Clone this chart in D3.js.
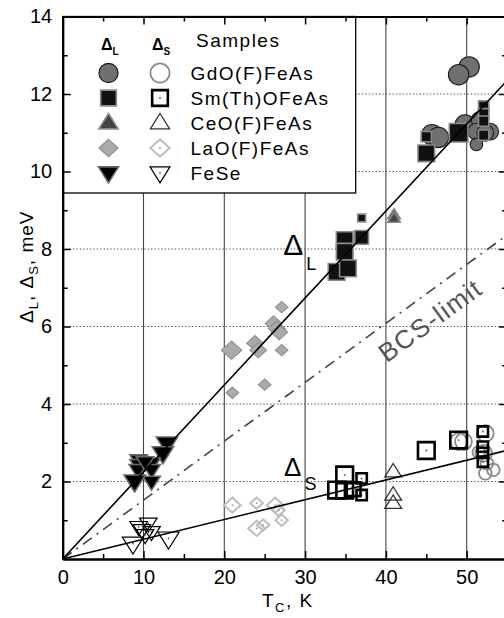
<!DOCTYPE html>
<html><head><meta charset="utf-8">
<script src="https://cdn.jsdelivr.net/npm/d3@7"></script>
<style>
body{margin:0;background:#fff}
svg{display:block}
text{font-family:"Liberation Sans",Arial,Helvetica,sans-serif;fill:#000}
</style>
</head><body>
<svg id="chart" width="504" height="618"></svg>
<script>
// ---------- data ----------
const samples = ["GdO(F)FeAs", "Sm(Th)OFeAs", "CeO(F)FeAs", "LaO(F)FeAs", "FeSe"];
const xTickValues = [0, 10, 20, 30, 40, 50];
const yTickValues = [2, 4, 6, 8, 10, 12, 14];
const slopeL = 0.2245;   // Delta_L fit, meV/K
const slopeS = 0.051;    // Delta_S fit, meV/K
const slopeBCS = 0.152;  // BCS limit 1.76 kTc

// [Tc (K), Delta (meV), marker size class]
const gdoL = [[50.3,12.7,"l"],[49.0,12.5,"l"],[45.7,10.95,"l"],[46.5,10.88,"l"],[49.8,11.2,"l"],
  [51.6,11.33,"m"],[51.2,11.03,"m"],[52.9,11.03,"m"],[51.2,10.7,"s"],[52.3,11.0,"m"]];
const smL = [[49.0,11.0,"xl"],[45.0,10.9,"s"],[45.0,10.47,"l"],[52.1,11.69,"s"],[52.1,11.49,"s"],
  [52.1,11.3,"s"],[52.1,10.94,"s"],[37.0,8.8,"xs"],[37.0,8.3,"m"],[34.9,8.23,"l"],[34.9,7.93,"l"],
  [33.9,7.41,"l"],[35.3,7.5,"l"]];
const ceL = [[41.0,8.88,"s"],[41.0,8.79,"s"]];
const laL = [[27.1,6.5,"s"],[26.1,6.08,"m"],[26.5,5.95,"m"],[26.8,5.85,"m"],[23.8,5.57,"m"],[24.2,5.39,"m"],
  [20.9,5.39,"l"],[27.1,5.39,"s"],[25.0,4.5,"s"],[21.0,4.29,"s"]];
const feseL = [[12.9,2.98,"l"],[12.4,2.73,"l"],[9.4,2.55,"m"],[9.4,2.43,"m"],[9.3,2.3,"m"],[11.0,2.47,"m"],
  [11.0,2.3,"m"],[11.0,2.0,"m"],[8.9,2.0,"l"],[10.2,2.5,"m"]];

const gdoS = [[52.3,3.24,"m"],[49.6,3.03,"m"],[49.0,3.03,"m"],[52.1,2.73,"m"],[51.5,2.75,"s"],
  [52.5,2.47,"s"],[52.3,2.21,"s"],[53.3,2.3,"s"]];
const smS = [[34.9,2.17,"l"],[33.9,1.78,"l"],[34.9,1.78,"l"],[37.0,2.08,"s"],[37.0,1.65,"s"],[36.0,1.8,"m"],
  [45.0,2.8,"l"],[49.0,3.07,"l"],[52.0,3.29,"s"],[52.0,2.9,"s"],[52.0,2.74,"s"],[52.0,2.51,"s"]];
const ceS = [[40.9,2.25,"m"],[40.9,1.65,"m"],[40.9,1.44,"m"]];
const laS = [[21.0,1.39,"m"],[24.0,1.44,"s"],[26.3,1.39,"m"],[26.7,1.26,"s"],[27.1,1.0,"s"],
  [24.0,0.79,"m"],[24.8,0.88,"s"]];
const feseS = [[9.4,0.83,"m"],[10.6,0.92,"m"],[9.8,0.75,"m"],[8.7,0.4,"l"],[13.1,0.53,"l"],
  [11.0,0.7,"m"],[10.2,0.62,"m"]];

// ---------- layout ----------
const svg = d3.select("#chart");
const x = d3.scaleLinear().domain([0, 55]).range([62.7, 507.1]);
const y = d3.scaleLinear().domain([0, 14]).range([559, 16.5]);
const size = d3.scaleOrdinal().domain(["xs","s","m","l","xl"]).range([8, 10.5, 14, 17, 19]);
const shapeScale = {circle: 1.2, square: 0.98, up: 1.2, down: 1.25, diamond: 1.2};
const FONT = 19, LS = "1.5px";

const styles = {
  "GdO(F)FeAs": {shape:"circle", f:{fill:"#707070",stroke:"#1a1a1a",sw:1.1}, o:{fill:"none",stroke:"#8a8a8a",sw:1.8}},
  "Sm(Th)OFeAs":{shape:"square", f:{fill:"#111",stroke:"#8a8a8a",sw:1.6}, o:{fill:"none",stroke:"#000",sw:2.6,dot:"#555"}},
  "CeO(F)FeAs": {shape:"up", f:{fill:"#444",stroke:"#888",sw:1.6}, o:{fill:"none",stroke:"#333",sw:1.3}},
  "LaO(F)FeAs": {shape:"diamond", f:{fill:"#aaa",stroke:"#8f8f8f",sw:1.1}, o:{fill:"none",stroke:"#bdbdbd",sw:2,dot:"#999"}},
  "FeSe":       {shape:"down", f:{fill:"#000",stroke:"#6a6a6a",sw:1.6}, o:{fill:"none",stroke:"#000",sw:1.2,dot:"#555"}}
};

function shapePath(shape, s) {
  const h = s / 2;
  if (shape === "circle") return `M${-h},0A${h},${h} 0 1,0 ${h},0A${h},${h} 0 1,0 ${-h},0Z`;
  if (shape === "square") return `M${-h},${-h}H${h}V${h}H${-h}Z`;
  if (shape === "diamond") return `M0,${-h*0.9}L${h},0L0,${h*0.9}L${-h},0Z`;
  const th = s * 0.8;
  if (shape === "up") return `M0,${-th*0.62}L${h},${th*0.38}L${-h},${th*0.38}Z`;
  return `M0,${th*0.62}L${h},${-th*0.38}L${-h},${-th*0.38}Z`;
}

function drawMarker(g, shape, st, s, cx, cy) {
  g.append("path").attr("d", shapePath(shape, s * shapeScale[shape])).attr("transform", `translate(${cx},${cy})`)
    .attr("fill", st.fill).attr("stroke", st.stroke).attr("stroke-width", st.sw);
  if (st.dot) g.append("circle").attr("cx", cx).attr("cy", cy).attr("r", 0.9).attr("fill", st.dot);
}

// ---------- grid ----------
const grid = svg.append("g");
grid.selectAll("line.v").data(xTickValues.filter(d => d > 0)).join("line")
  .attr("x1", d => x(d)).attr("x2", d => x(d)).attr("y1", y(0)).attr("y2", y(14))
  .attr("stroke", "#444").attr("stroke-width", 1.1);
grid.selectAll("line.h").data(yTickValues.filter(d => d < 14)).join("line")
  .attr("x1", x(0)).attr("x2", x(55)).attr("y1", d => y(d)).attr("y2", d => y(d))
  .attr("stroke", "#555").attr("stroke-width", 1).attr("stroke-dasharray", "1.4,2");

// ---------- BCS line ----------
const xEnd = 55;
svg.append("line").attr("x1", x(0)).attr("y1", y(0)).attr("x2", x(xEnd)).attr("y2", y(slopeBCS * xEnd))
  .attr("stroke", "#444").attr("stroke-width", 1.6).attr("stroke-dasharray", "11,6,2,6");

// ---------- points ----------
const pts = svg.append("g");
const seriesL = [gdoL, smL, ceL, laL, feseL];
const seriesS = [gdoS, smS, ceS, laS, feseS];
const order = [3, 4, 2, 0, 1];
order.forEach(i => {
  const st = styles[samples[i]];
  seriesS[i].forEach(d => drawMarker(pts, st.shape, st.o, size(d[2]), x(d[0]), y(d[1])));
});
order.forEach(i => {
  const st = styles[samples[i]];
  seriesL[i].forEach(d => drawMarker(pts, st.shape, st.f, size(d[2]), x(d[0]), y(d[1])));
});

// ---------- fit lines ----------
svg.append("line").attr("x1", x(0)).attr("y1", y(0)).attr("x2", x(xEnd)).attr("y2", y(slopeL * xEnd))
  .attr("stroke", "#000").attr("stroke-width", 1.6);
svg.append("line").attr("x1", x(0)).attr("y1", y(0)).attr("x2", x(xEnd)).attr("y2", y(slopeS * xEnd))
  .attr("stroke", "#000").attr("stroke-width", 1.6);

// ---------- annotations ----------
const aL = svg.append("text").attr("x", x(27.3)).attr("y", y(7.85)).style("font-size", "30px");
aL.append("tspan").text("Δ");
aL.append("tspan").attr("dy", 15).style("font-size", "18px").attr("dx", 3).text("L");
const aS = svg.append("text").attr("x", x(27.4)).attr("y", y(2.14)).style("font-size", "26px");
aS.append("tspan").text("Δ");
aS.append("tspan").attr("dy", 14).style("font-size", "18px").attr("dx", 3).text("S");

const bcsAngle = -Math.atan((y(0) - y(slopeBCS * 10)) / (x(10) - x(0))) * 180 / Math.PI;
svg.append("text").attr("transform", `translate(${x(40.1)},${y(5.05)}) rotate(${bcsAngle})`)
  .style("font-size", "26px").style("letter-spacing", "1.4px").style("fill", "#555").text("BCS-limit");

// ---------- legend ----------
const lg = svg.append("g");
lg.append("rect").attr("x", x(0)).attr("y", y(14)).attr("width", 293).attr("height", 176.5)
  .attr("fill", "#fff").attr("stroke", "#000").attr("stroke-width", 1.3);
const hL = lg.append("text").attr("x", 101).attr("y", 50).style("font-size", "16px").style("font-weight", "bold");
hL.append("tspan").text("Δ");
hL.append("tspan").attr("dy", 5).style("font-size", "10px").text("L");
const hS = lg.append("text").attr("x", 152).attr("y", 50).style("font-size", "16px").style("font-weight", "bold");
hS.append("tspan").text("Δ");
hS.append("tspan").attr("dy", 5).style("font-size", "10px").text("S");
lg.append("text").attr("x", 196).attr("y", 46.7).style("font-size", FONT + "px").style("letter-spacing", LS).text("Samples");
samples.forEach((name, i) => {
  const base = 80 + i * 25;
  const st = styles[name];
  drawMarker(lg, st.shape, st.f, 16, 108.5, base - 7);
  drawMarker(lg, st.shape, st.o, 16, 160, base - 7);
  lg.append("text").attr("x", 190.5).attr("y", base).style("font-size", FONT + "px").style("letter-spacing", LS).text(name);
});

// ---------- axes ----------
const ax = svg.append("g");
function styleAxis(g) {
  g.select(".domain").attr("stroke", "#000").attr("stroke-width", 2);
  g.selectAll(".tick line").attr("stroke", "#000").attr("stroke-width", 1.5);
  g.selectAll(".tick text").style("font-size", "20px").attr("fill", "#000");
}
const minorX = d3.range(5, 55, 10);
const minorY = d3.range(1, 14, 2);
ax.append("g").attr("transform", `translate(0,${y(0)})`)
  .call(d3.axisBottom(x).tickValues(xTickValues).tickSize(-8).tickPadding(11).tickSizeOuter(0)).call(styleAxis);
ax.append("g").attr("transform", `translate(0,${y(0)})`)
  .call(d3.axisBottom(x).tickValues(minorX).tickSize(-5).tickFormat("").tickSizeOuter(0)).call(styleAxis);
ax.append("g").attr("transform", `translate(0,${y(14)})`)
  .call(d3.axisTop(x).tickValues(xTickValues).tickSize(-8).tickFormat("").tickSizeOuter(0)).call(styleAxis);
ax.append("g").attr("transform", `translate(0,${y(14)})`)
  .call(d3.axisTop(x).tickValues(minorX).tickSize(-5).tickFormat("").tickSizeOuter(0)).call(styleAxis);
ax.append("g").attr("transform", `translate(${x(0)},0)`)
  .call(d3.axisLeft(y).tickValues(yTickValues).tickSize(-8).tickPadding(10.5).tickSizeOuter(0)).call(styleAxis);
ax.append("g").attr("transform", `translate(${x(0)},0)`)
  .call(d3.axisLeft(y).tickValues(minorY).tickSize(-5).tickFormat("").tickSizeOuter(0)).call(styleAxis);
ax.append("g").attr("transform", `translate(${x(55)},0)`)
  .call(d3.axisRight(y).tickValues(yTickValues).tickSize(-8).tickFormat("").tickSizeOuter(0)).call(styleAxis);
ax.append("g").attr("transform", `translate(${x(55)},0)`)
  .call(d3.axisRight(y).tickValues(minorY).tickSize(-5).tickFormat("").tickSizeOuter(0)).call(styleAxis);

// axis titles
const xt = svg.append("text").attr("x", 262).attr("y", 606.5).style("font-size", FONT + "px").style("letter-spacing", LS);
xt.append("tspan").text("T");
xt.append("tspan").attr("dy", 5).style("font-size", "13px").text("C");
xt.append("tspan").attr("dy", -5).text(", K");

const yt = svg.append("text").attr("transform", "translate(33,323) rotate(-90)").style("font-size", FONT + "px").style("letter-spacing", "1px");
yt.append("tspan").text("Δ");
yt.append("tspan").attr("dy", 5).style("font-size", "13px").text("L");
yt.append("tspan").attr("dy", -5).text(", Δ");
yt.append("tspan").attr("dy", 5).style("font-size", "13px").text("S");
yt.append("tspan").attr("dy", -5).text(", meV");
</script>
</body></html>
